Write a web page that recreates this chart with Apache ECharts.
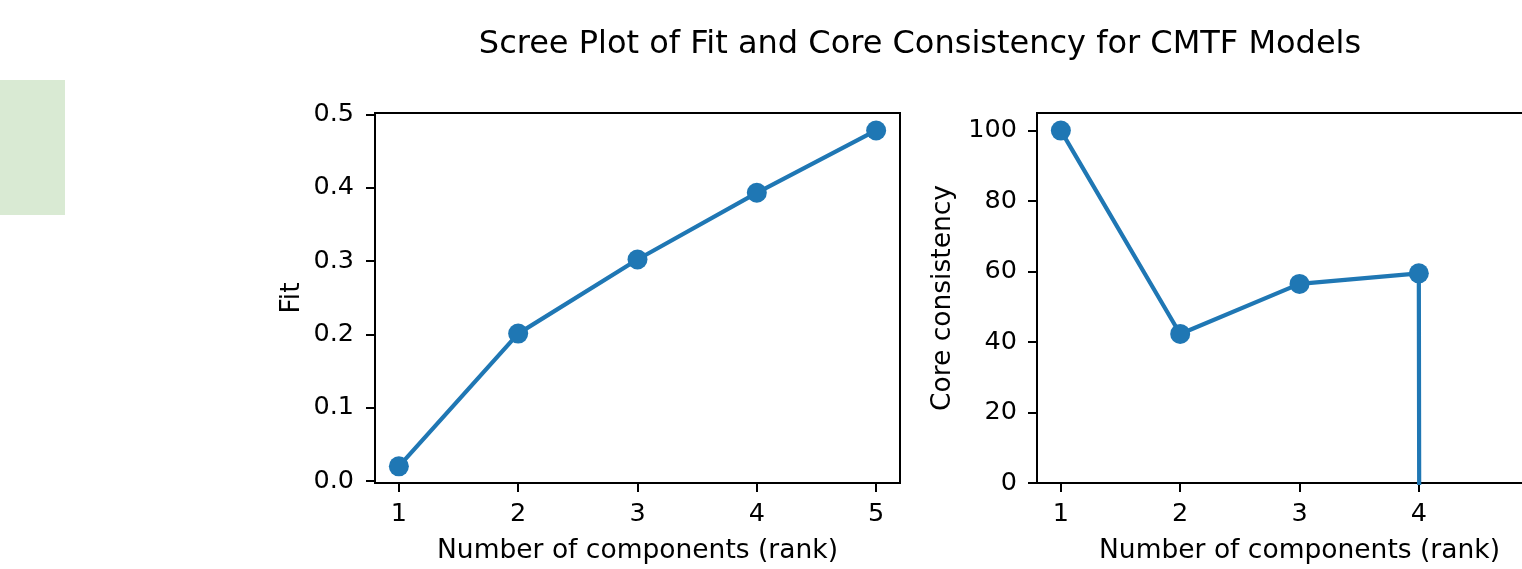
<!DOCTYPE html>
<html>
<head>
<meta charset="utf-8">
<script src="https://cdn.jsdelivr.net/npm/echarts@6/dist/echarts.min.js"></script>
<style>
html,body{margin:0;padding:0;background:#fff;}
#chart{width:1522px;height:569px;}
</style>
</head>
<body>
<div id="chart"></div>
<script>
const ranks = [1, 2, 3, 4, 5];
const fitValues = [0.020, 0.201, 0.302, 0.393, 0.478];
const coreValues = [100, 42.3, 56.5, 59.5, -20000];
const xTicks = [1, 2, 3, 4, 5];
const fitTicks = [0, 0.1, 0.2, 0.3, 0.4, 0.5];
const coreTicks = [0, 20, 40, 60, 80, 100];

const FONT = 'DejaVu Sans';
const BLUE = '#1f77b4';
const tickFs = 25.5;
const nameFs = 26.5;

function xAxisCfg(gridIndex) {
  return {
    type: 'value', gridIndex: gridIndex, min: 0.8, max: 5.2,
    name: 'Number of components (rank)', nameLocation: 'middle', nameGap: 55,
    nameTextStyle: {fontFamily: FONT, fontSize: nameFs, color: '#000'},
    axisLine: {show: true, onZero: false, lineStyle: {color: '#000', width: 2}},
    axisTick: {show: true, length: 9, lineStyle: {color: '#000', width: 2}, customValues: xTicks},
    axisLabel: {fontFamily: FONT, fontSize: tickFs, color: '#000', margin: 18, customValues: xTicks,
      formatter: v => String(v)},
    splitLine: {show: false}
  };
}

const option = {
  animation: false,
  backgroundColor: '#fff',
  title: {
    text: 'Scree Plot of Fit and Core Consistency for CMTF Models',
    left: 915, top: 24, textAlign: 'center',
    textStyle: {fontFamily: FONT, fontSize: 32, fontWeight: 'normal', color: '#000'}
  },
  graphic: [{
    type: 'rect', shape: {x: 0, y: 80, width: 65, height: 135},
    style: {fill: '#d9ead3'}, silent: true
  }],
  grid: [
    {left: 375, top: 113, width: 525, height: 370, show: true, borderColor: '#000', borderWidth: 2,
     backgroundColor: 'transparent', outerBoundsMode: 'none', containLabel: false},
    {left: 1037, top: 113, width: 525, height: 370, show: true, borderColor: '#000', borderWidth: 2,
     backgroundColor: 'transparent', outerBoundsMode: 'none', containLabel: false}
  ],
  xAxis: [xAxisCfg(0), xAxisCfg(1)],
  yAxis: [
    {
      type: 'value', gridIndex: 0, min: -0.0027, max: 0.5018,
      name: 'Fit', nameLocation: 'middle', nameGap: 69, nameRotate: 90,
      nameTextStyle: {fontFamily: FONT, fontSize: nameFs, color: '#000'},
      axisLine: {show: true, onZero: false, lineStyle: {color: '#000', width: 2}},
      axisTick: {show: true, length: 9, lineStyle: {color: '#000', width: 2}, customValues: fitTicks},
      axisLabel: {fontFamily: FONT, fontSize: tickFs, color: '#000', margin: 21, customValues: fitTicks,
        formatter: v => v.toFixed(1)},
      splitLine: {show: false}
    },
    {
      type: 'value', gridIndex: 1, min: 0, max: 105,
      name: 'Core consistency', nameLocation: 'middle', nameGap: 80, nameRotate: 90,
      nameTextStyle: {fontFamily: FONT, fontSize: nameFs, color: '#000'},
      axisLine: {show: true, onZero: false, lineStyle: {color: '#000', width: 2}},
      axisTick: {show: true, length: 9, lineStyle: {color: '#000', width: 2}, customValues: coreTicks},
      axisLabel: {fontFamily: FONT, fontSize: tickFs, color: '#000', margin: 20, customValues: coreTicks,
        formatter: v => String(v)},
      splitLine: {show: false}
    }
  ],
  series: [
    {
      type: 'line', xAxisIndex: 0, yAxisIndex: 0,
      data: ranks.map((r, i) => [r, fitValues[i]]),
      symbol: 'circle', symbolSize: 20, clip: true,
      lineStyle: {color: BLUE, width: 4.2}, itemStyle: {color: BLUE}
    },
    {
      type: 'line', xAxisIndex: 1, yAxisIndex: 1,
      data: ranks.map((r, i) => [r, coreValues[i]]),
      symbol: 'circle', symbolSize: 20, clip: true,
      lineStyle: {color: BLUE, width: 4.2}, itemStyle: {color: BLUE}
    }
  ]
};

const chart = echarts.init(document.getElementById('chart'), null, {renderer: 'canvas'});
chart.setOption(option);
</script>
</body>
</html>
